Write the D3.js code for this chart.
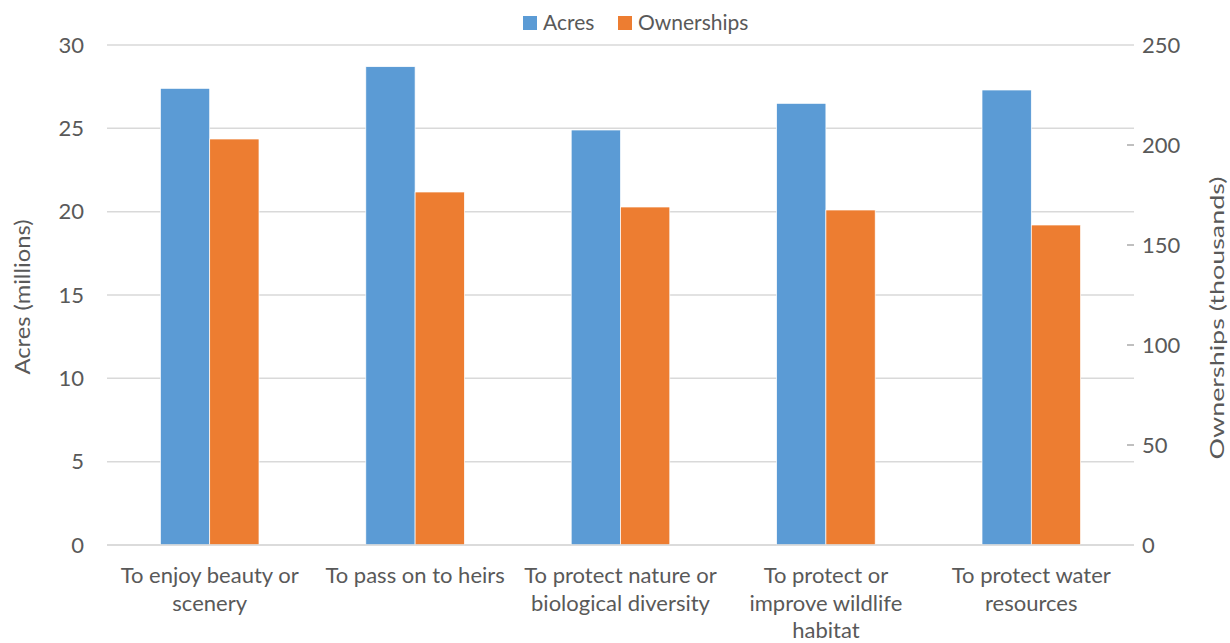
<!DOCTYPE html>
<html><head><meta charset="utf-8">
<script src="https://cdn.jsdelivr.net/npm/d3@7"></script>
<style>body{margin:0;background:#fff}svg{display:block}text{font-family:Lato,"Open Sans",sans-serif;fill:#595959}</style>
</head><body><svg id="c" width="1230" height="643"></svg>
<script>
const categories = ["To enjoy beauty or\nscenery","To pass on to heirs","To protect nature or\nbiological diversity","To protect or\nimprove wildlife\nhabitat","To protect water\nresources"];
const acres = [27.4, 28.7, 24.9, 26.5, 27.3];
const ownerships = [203, 176.5, 169, 167.5, 160];
const leftTicks = [0,5,10,15,20,25,30];
const rightTicks = [0,50,100,150,200,250];
const seriesNames = ["Acres","Ownerships"];
const colors = ["#5B9BD5","#ED7D31"];

const svg = d3.select("#c");
const L=107, R=1134, T=45, B=545;
const x = d3.scaleBand().domain(categories).range([L,R]).paddingInner(0.52).paddingOuter(0.26);
const xs = d3.scaleBand().domain(seriesNames).range([0,x.bandwidth()]);
const yL = d3.scaleLinear().domain([0,30]).range([B,T]);
const yR = d3.scaleLinear().domain([0,250]).range([B,T]);

// gridlines
svg.append("g").selectAll("line").data(leftTicks).join("line")
  .attr("x1",L).attr("x2",R).attr("y1",d=>yL(d)).attr("y2",d=>yL(d))
  .attr("stroke","#d9d9d9").attr("stroke-width",1.5);

// left axis
const gl = svg.append("g").attr("transform",`translate(${L},0)`)
  .call(d3.axisLeft(yL).tickValues(leftTicks).tickSize(0).tickPadding(23));
gl.select(".domain").remove();
gl.selectAll("text").attr("font-size",22).style("fill","#595959").style("font-family","Lato");

// right axis
const gr = svg.append("g").attr("transform",`translate(${R},0)`)
  .call(d3.axisRight(yR).tickValues(rightTicks).tickSize(0).tickPadding(8));
gr.select(".domain").remove();
gr.selectAll("text").attr("font-size",22).style("fill","#595959").style("font-family","Lato");
svg.append("g").selectAll("line").data(rightTicks.filter(d=>d>0&&d<250)).join("line")
  .attr("x1",R-7).attr("x2",R).attr("y1",d=>yR(d)).attr("y2",d=>yR(d))
  .attr("stroke","#bfbfbf").attr("stroke-width",2);

// bars
const g = svg.append("g");
categories.forEach((c,i)=>{
  g.append("rect").attr("x",x(c)+xs("Acres")).attr("width",xs.bandwidth())
    .attr("y",yL(acres[i])).attr("height",B-yL(acres[i]))
    .attr("fill",colors[0]).attr("stroke","#ffffff").attr("stroke-width",0.7);
  g.append("rect").attr("x",x(c)+xs("Ownerships")).attr("width",xs.bandwidth())
    .attr("y",yR(ownerships[i])).attr("height",B-yR(ownerships[i]))
    .attr("fill",colors[1]).attr("stroke","#ffffff").attr("stroke-width",0.7);
});

// baseline
svg.append("line").attr("x1",L).attr("x2",R).attr("y1",B).attr("y2",B).attr("stroke","#d9d9d9").attr("stroke-width",1.5);

// category labels
categories.forEach(c=>{
  const t = svg.append("text").attr("text-anchor","middle").attr("font-size",22)
    .attr("x",x(c)+x.bandwidth()/2).attr("y",583);
  c.split("\n").forEach((ln,j)=>{
    t.append("tspan").attr("x",x(c)+x.bandwidth()/2).attr("dy",j===0?0:27.5).text(ln);
  });
});

// axis titles
svg.append("text").attr("transform",`translate(30,297) rotate(-90)`).attr("text-anchor","middle")
  .attr("font-size",22).attr("textLength",155).attr("lengthAdjust","spacingAndGlyphs").text("Acres (millions)");
svg.append("text").attr("transform",`translate(1224,318) rotate(-90)`).attr("text-anchor","middle")
  .attr("font-size",20).attr("textLength",283).attr("lengthAdjust","spacingAndGlyphs").text("Ownerships (thousands)");

// legend
const leg = svg.append("g");
const legX = [523, 618];
seriesNames.forEach((s,i)=>{
  leg.append("rect").attr("x",legX[i]).attr("y",16).attr("width",14).attr("height",14).attr("fill",colors[i]);
  leg.append("text").attr("x",legX[i]+20).attr("y",30).attr("font-size",21).text(s);
});
</script></body></html>
